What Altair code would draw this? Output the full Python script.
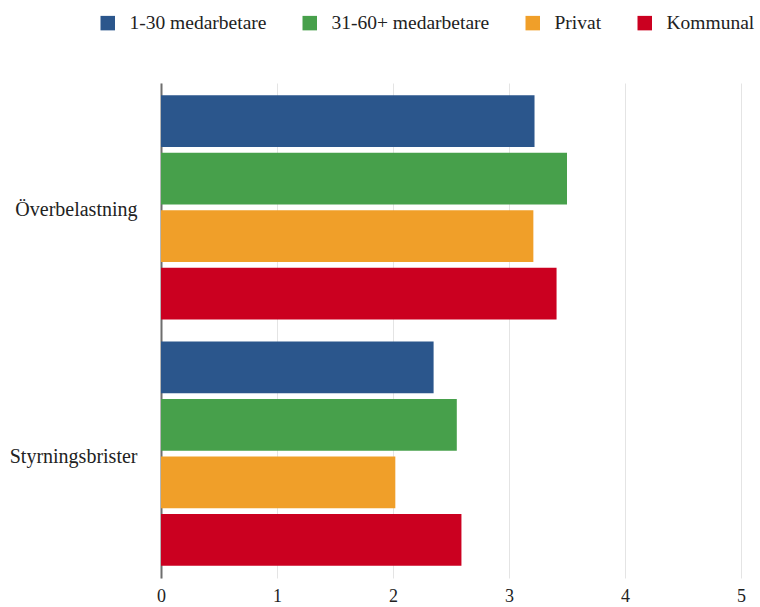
import altair as alt
import pandas as pd

# Survey scores per problem area, split by workplace size and sector
categories = ["Överbelastning", "Styrningsbrister"]
series = ["1-30 medarbetare", "31-60+ medarbetare", "Privat", "Kommunal"]
colors = ["#2b568c", "#47a04b", "#f09f29", "#cb0020"]

overbelastning = [3.22, 3.50, 3.21, 3.41]
styrningsbrister = [2.35, 2.55, 2.02, 2.59]

x_ticks = [0, 1, 2, 3, 4, 5]

rows = []
for cat, vals in zip(categories, [overbelastning, styrningsbrister]):
    for s, v in zip(series, vals):
        rows.append({"kategori": cat, "grupp": s, "värde": v})
df = pd.DataFrame(rows)

FONT = "Liberation Serif"

chart = (
    alt.Chart(df)
    .mark_bar()
    .encode(
        y=alt.Y(
            "kategori:N",
            sort=categories,
            title=None,
            scale=alt.Scale(paddingInner=0.09, paddingOuter=0.05),
            axis=alt.Axis(
                ticks=False,
                domainColor="#6e6e6e",
                domainWidth=2,
                labelFont=FONT,
                labelFontSize=20,
                labelColor="#222222",
                labelPadding=24,
                labelOffset=3,
                grid=False,
            ),
        ),
        yOffset=alt.YOffset(
            "grupp:N", sort=series, scale=alt.Scale(paddingInner=0.1, paddingOuter=0)
        ),
        x=alt.X(
            "värde:Q",
            title=None,
            scale=alt.Scale(domain=[0, 5], nice=False),
            axis=alt.Axis(
                values=x_ticks,
                format="d",
                domain=False,
                ticks=False,
                grid=True,
                gridColor="#e4e4e4",
                gridWidth=1,
                labelFlush=False,
                labelFont=FONT,
                labelFontSize=18,
                labelColor="#222222",
                labelPadding=9,
            ),
        ),
        color=alt.Color(
            "grupp:N",
            sort=series,
            scale=alt.Scale(domain=series, range=colors),
            legend=alt.Legend(
                title=None,
                orient="none",
                direction="horizontal",
                legendX=-63,
                legendY=-70,
                symbolType="square",
                symbolSize=210,
                symbolStrokeWidth=0,
                symbolOpacity=1,
                labelFont=FONT,
                labelFontSize=19.5,
                labelColor="#222222",
                labelOffset=12,
                columnPadding=33,
                labelLimit=300,
            ),
        ),
    )
    .properties(
        width=580,
        height=495,
        autosize=alt.AutoSizeParams(type="none"),
        padding={"left": 161, "top": 83, "right": 19, "bottom": 29},
    )
    .configure_view(stroke=None)
)

chart.save("out.html", embed_options={"renderer": "svg", "actions": False})
